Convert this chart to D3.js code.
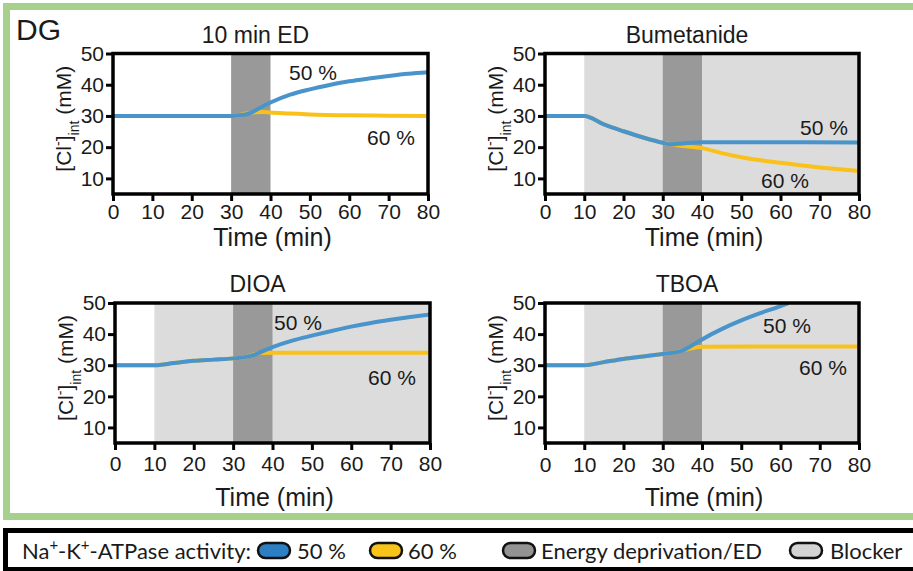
<!DOCTYPE html>
<html>
<head>
<meta charset="utf-8">
<script src="https://cdn.jsdelivr.net/npm/d3@7"></script>
<style>
  html, body { margin: 0; padding: 0; background: #fff; }
  svg { display: block; }
  text { font-family: "Liberation Sans", Arial, Helvetica, sans-serif; fill: #1a1a1a; }
  .legend text { font-family: Lato, "Open Sans", sans-serif; }
</style>
</head>
<body>
<svg id="fig" width="913" height="571"></svg>
<script>
// ---- data -------------------------------------------------------------
const timeTicks = [0, 10, 20, 30, 40, 50, 60, 70, 80];
const concTicks = [10, 20, 30, 40, 50];
const timeDomain = [0, 80];
const concDomain = [5, 50];
const edWindow = [30, 40];

const panelTitles = ["10 min ED", "Bumetanide", "DIOA", "TBOA"];
const blockerStart = [null, 10, 10, 10];

// [Cl-]int traces (time in min, concentration in mM)
const edBlue = [[0,30],[30,30],[32,30.2],[35,31],[37,32.4],[40,34.3],[45,36.8],[50,38.5],[55,39.9],[60,41.1],[65,42],[70,42.8],[75,43.5],[80,44]];
const edYellow = [[0,30],[30,30],[32,30.2],[34,30.8],[36,31.2],[38,31.3],[40,31.1],[45,30.8],[50,30.5],[60,30.2],[70,30.1],[80,30]];

const bumBlue = [[0,30],[10,30],[15,27.3],[20,25.1],[25,23.1],[30,21.4],[32,20.9],[35,21.2],[40,21.6],[50,21.6],[60,21.6],[80,21.5]];
const bumYellow = [[0,30],[10,30],[15,27.3],[20,25.1],[25,23.1],[30,21.4],[32,20.9],[35,20.4],[40,19.7],[45,18.1],[50,16.8],[55,15.8],[60,15],[65,14.2],[70,13.5],[75,12.9],[80,12.4]];

const dioaBlue = [[0,30],[10,30],[15,30.7],[20,31.4],[25,31.8],[30,32.2],[33,32.6],[35,33.2],[37,34.2],[40,35.8],[45,37.9],[50,39.5],[55,41],[60,42.4],[65,43.6],[70,44.6],[75,45.5],[80,46.3]];
const dioaYellow = [[0,30],[10,30],[15,30.7],[20,31.4],[25,31.8],[30,32.2],[33,32.6],[35,33.4],[37,33.9],[40,34],[60,34],[80,34]];

const tboaBlue = [[0,30],[10,30],[15,31],[20,32],[25,32.8],[30,33.6],[33,34.1],[35,34.7],[37,36],[40,38.3],[45,41.6],[50,44.4],[55,46.8],[60,49],[62,50]];
const tboaYellow = [[0,30],[10,30],[15,31],[20,32],[25,32.8],[30,33.6],[33,34.1],[35,34.7],[37,35.4],[40,35.9],[60,36],[80,36]];

const blueSeries = [edBlue, bumBlue, dioaBlue, tboaBlue];
const yellowSeries = [edYellow, bumYellow, dioaYellow, tboaYellow];

const seriesNames = ["50 %", "60 %"];
const legendLabels = ["50 %", "60 %", "Energy deprivation/ED", "Blocker"];

// ---- styling ----------------------------------------------------------
const BLUE = "#4894cb", YELLOW = "#f9c11a";
const ED_GREY = "#999999", BLOCK_GREY = "#dcdcdc";

// panel layout: plot-area boxes and text offsets
const panels = [
  { x0: 113, x1: 428, y0: 53.5, y1: 194, tickY: 10, titleY: 52, lab50: [313, 80], lab60: [391, 145] },
  { x0: 545, x1: 859, y0: 53.5, y1: 194, tickY: 10, titleY: 52, lab50: [824, 135], lab60: [785, 188] },
  { x0: 115, x1: 430, y0: 303, y1: 443, tickY: 13, titleY: 63, lab50: [298, 330], lab60: [392, 385] },
  { x0: 545, x1: 859, y0: 303, y1: 443, tickY: 14, titleY: 63, lab50: [787, 333], lab60: [823, 375] }
];

const svg = d3.select("#fig");

// green frame around the four panels
svg.append("rect")
  .attr("x", 6.5).attr("y", 6.5).attr("width", 1000).attr("height", 510)
  .attr("fill", "none").attr("stroke", "#a8d08d").attr("stroke-width", 7);

svg.append("text").attr("x", 16).attr("y", 40)
  .style("font-size", "30px").text("DG");

panels.forEach((p, i) => {
  const x = d3.scaleLinear().domain(timeDomain).range([p.x0, p.x1]);
  const y = d3.scaleLinear().domain(concDomain).range([p.y1, p.y0]);
  const g = svg.append("g");

  const clipId = "clip" + i;
  g.append("clipPath").attr("id", clipId).append("rect")
    .attr("x", p.x0).attr("y", p.y0).attr("width", p.x1 - p.x0).attr("height", p.y1 - p.y0);

  // blocker and energy-deprivation windows
  if (blockerStart[i] !== null) {
    g.append("rect")
      .attr("x", x(blockerStart[i])).attr("y", y(concDomain[1]))
      .attr("width", x(timeDomain[1]) - x(blockerStart[i]))
      .attr("height", y(concDomain[0]) - y(concDomain[1]))
      .attr("fill", BLOCK_GREY);
  }
  g.append("rect")
    .attr("x", x(edWindow[0])).attr("y", y(concDomain[1]))
    .attr("width", x(edWindow[1]) - x(edWindow[0]))
    .attr("height", y(concDomain[0]) - y(concDomain[1]))
    .attr("fill", ED_GREY);

  const line = d3.line().x(d => x(d[0])).y(d => y(d[1])).curve(d3.curveMonotoneX);
  const lines = g.append("g").attr("clip-path", `url(#${clipId})`);
  lines.append("path").datum(yellowSeries[i]).attr("d", line)
    .attr("fill", "none").attr("stroke", YELLOW).attr("stroke-width", 4);
  lines.append("path").datum(blueSeries[i]).attr("d", line)
    .attr("fill", "none").attr("stroke", BLUE).attr("stroke-width", 4);

  // axes
  const xAxis = d3.axisBottom(x).tickValues(timeTicks).tickSize(7).tickPadding(3).tickFormat(d3.format("d"));
  const yAxis = d3.axisLeft(y).tickValues(concTicks).tickSize(7).tickPadding(2).tickFormat(d3.format("d"));

  const gx = g.append("g").attr("transform", `translate(0,${p.y1})`).call(xAxis);
  const gy = g.append("g").attr("transform", `translate(${p.x0},0)`).call(yAxis);
  [gx, gy].forEach(a => {
    a.select(".domain").remove();
    a.selectAll(".tick line").attr("stroke", "#000").attr("stroke-width", 3);
    a.selectAll(".tick text").attr("fill", "#1a1a1a").style("font-size", "21px")
      .style("font-family", '"Liberation Sans", Arial, sans-serif');
  });
  gx.selectAll(".tick text").attr("dy", "0.71em").attr("y", p.tickY);

  // plot box
  g.append("rect")
    .attr("x", p.x0).attr("y", p.y0).attr("width", p.x1 - p.x0).attr("height", p.y1 - p.y0)
    .attr("fill", "none").attr("stroke", "#000").attr("stroke-width", 3.5);

  const cx = (p.x0 + p.x1) / 2;
  // panel title
  g.append("text").attr("x", cx - 15).attr("y", p.y0 - 11)
    .attr("text-anchor", "middle").style("font-size", "23px").text(panelTitles[i]);

  // x-axis title
  g.append("text").attr("x", cx + 2).attr("y", p.y1 + p.titleY)
    .attr("text-anchor", "middle").style("font-size", "25px").text("Time (min)");

  // y-axis title: [Cl-]int (mM)
  const yl = g.append("text")
    .attr("transform", `translate(${p.x0 - 42},${(p.y0 + p.y1) / 2 - 5}) rotate(-90)`)
    .attr("text-anchor", "middle").style("font-size", "21px");
  yl.append("tspan").text("[Cl");
  yl.append("tspan").attr("baseline-shift", "super").style("font-size", "14px").text("-");
  yl.append("tspan").text("]");
  yl.append("tspan").attr("baseline-shift", "sub").style("font-size", "14px").text("int");
  yl.append("tspan").text(" (mM)");

  // series labels
  g.append("text").attr("x", p.lab50[0]).attr("y", p.lab50[1])
    .attr("text-anchor", "middle").style("font-size", "21px").text(seriesNames[0]);
  g.append("text").attr("x", p.lab60[0]).attr("y", p.lab60[1])
    .attr("text-anchor", "middle").style("font-size", "21px").text(seriesNames[1]);
});

// ---- legend -----------------------------------------------------------
const lg = svg.append("g").attr("class", "legend");
lg.append("rect").attr("x", 5.5).attr("y", 530.5).attr("width", 1000).attr("height", 39)
  .attr("fill", "#fff").attr("stroke", "#000").attr("stroke-width", 5);

const lt = lg.append("text").attr("x", 22).attr("y", 559).style("font-size", "22px");
lt.append("tspan").text("Na");
lt.append("tspan").attr("baseline-shift", "super").style("font-size", "15px").text("+");
lt.append("tspan").text("-K");
lt.append("tspan").attr("baseline-shift", "super").style("font-size", "15px").text("+");
lt.append("tspan").text("-ATPase activity:");

const swatchFill = ["#2c7fc3", "#f8c419", "#939393", "#d3d3d3"];
const swatchX = [258, 370, 503, 790];
const labelX = [297, 408, 541, 830];
legendLabels.forEach((lab, k) => {
  lg.append("rect").attr("x", swatchX[k]).attr("y", 543).attr("width", 32).attr("height", 15)
    .attr("rx", 7.5).attr("fill", swatchFill[k]).attr("stroke", "#111").attr("stroke-width", 2.5);
  lg.append("text").attr("x", labelX[k]).attr("y", 559).style("font-size", "22px").text(lab);
});
</script>
</body>
</html>
